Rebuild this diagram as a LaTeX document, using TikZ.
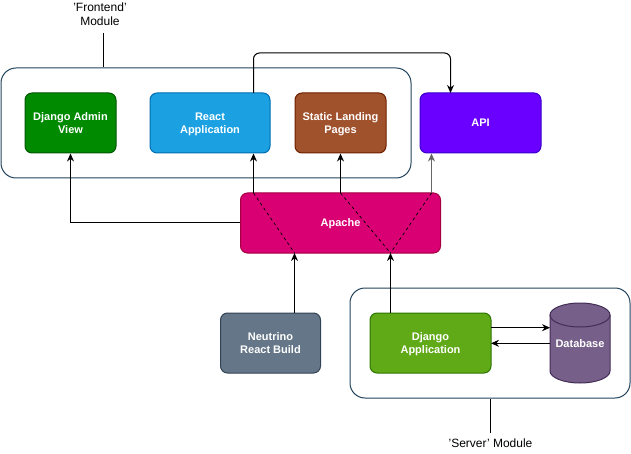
\documentclass[tikz,border=0pt]{standalone}
\usepackage{fontspec}
\setmainfont{Liberation Sans}
\usetikzlibrary{arrows.meta}
\definecolor{adminF}{HTML}{008A00}\definecolor{adminD}{HTML}{005700}
\definecolor{reactF}{HTML}{1BA1E2}\definecolor{reactD}{HTML}{006EAF}
\definecolor{staticF}{HTML}{A0522D}\definecolor{staticD}{HTML}{6D1F00}
\definecolor{apiF}{HTML}{6A00FF}\definecolor{apiD}{HTML}{3700CC}
\definecolor{apacheF}{HTML}{D80073}\definecolor{apacheD}{HTML}{A50040}
\definecolor{neuF}{HTML}{647687}\definecolor{neuD}{HTML}{314354}
\definecolor{djF}{HTML}{60A917}\definecolor{djD}{HTML}{2D7600}
\definecolor{dbF}{HTML}{76608A}\definecolor{dbD}{HTML}{432D57}
\definecolor{contD}{HTML}{23445D}
\begin{document}
\begin{tikzpicture}[x=1pt,y=-1pt,line width=1pt,
  box/.style={draw, rounded corners=7pt, text=white, inner sep=0pt, align=center,
    text depth=-3.5pt, font=\bfseries\fontsize{11}{13.3}\selectfont},
  cont/.style={draw=contD, fill=white, rounded corners=15pt, line width=1pt},
  lbl/.style={font=\fontsize{12}{14}\selectfont, align=center, inner sep=0pt},
  arr/.style={-{Stealth[length=8pt,width=7pt]}, line width=1pt},
  dsh/.style={dashed, dash pattern=on 3pt off 3pt, line width=0.7pt}]
\useasboundingbox (0,0) rectangle (631,454);
\fill[white] (0,0) rectangle (631,454);
% containers
\node[cont, minimum width=410pt, minimum height=110pt, inner sep=0pt] (front) at (206,123) {};
\node[cont, minimum width=280pt, minimum height=110pt, inner sep=0pt] (server) at (490,343) {};
% boxes
\node[box, fill=adminF, draw=adminD, minimum width=91pt, minimum height=60pt] (admin) at (70.5,123) {Django Admin\\View};
\node[box, fill=reactF, draw=reactD, minimum width=120pt, minimum height=60pt] (react) at (210,123) {React\\Application};
\node[box, fill=staticF, draw=staticD, minimum width=91pt, minimum height=60pt] (static) at (340.5,123) {Static Landing\\Pages};
\node[box, fill=apiF, draw=apiD, minimum width=121pt, minimum height=60pt] (api) at (480.5,123) {API};
\node[box, fill=apacheF, draw=apacheD, minimum width=200pt, minimum height=60pt] (apache) at (340.5,223) {Apache};
\node[box, fill=neuF, draw=neuD, minimum width=100pt, minimum height=60pt] (neu) at (270.5,343) {Neutrino\\React Build};
\node[box, fill=djF, draw=djD, minimum width=121pt, minimum height=60pt] (django) at (430.5,343) {Django\\Application};
% database cylinder
\fill[dbF] (550,315) -- (550,371) arc[start angle=180, end angle=0, x radius=30, y radius=12] -- (610,315) arc[start angle=0, end angle=-180, x radius=30, y radius=12] -- cycle;
\draw[dbD] (550,315) -- (550,371) arc[start angle=180, end angle=0, x radius=30, y radius=12] -- (610,315);
\draw[dbD] (580,315) ellipse[x radius=30, y radius=12];
\node[minimum width=60pt, minimum height=80pt, inner sep=0pt] (db) at (580,343) {};
\node[text=white, font=\bfseries\fontsize{11}{13.3}\selectfont, inner sep=0pt] (dbl) at (580,344) {Database};
% labels
\node[lbl] (flbl) at (100,14) {'Frontend'\\Module};
\node[lbl] (slbl) at (490.5,443) {'Server' Module};
\coordinate (ft) at (103,33);
\draw (ft) -- (ft |- front.north);
\coordinate (sb) at (490.5,433);
\draw (sb) -- (sb |- server.south);
% dashed lines in apache
\coordinate (a1) at (253.5,193); \coordinate (a2) at (340.5,193); \coordinate (a3) at (431.5,193);
\coordinate (b1) at (294.5,253); \coordinate (b2) at (390.5,253);
\draw[dsh] (a1) -- (b1);
\draw[dsh] (a2) -- (b2);
\draw[dsh] (a3) -- (b2);
% arrows
\draw[arr] (apache.west) -- (70.5,223) -- (admin.south);
\draw[arr] (a1) -- (a1 |- react.south);
\draw[arr] (a2) -- (a2 |- static.south);
\draw[arr, draw=black!60] (a3) -- (a3 |- api.south);
\coordinate (rt) at (253.5,93);
\coordinate (at) at (450.5,93);
\draw[arr, rounded corners=6pt] (rt) -- (253.5,53) -- (450.5,53) -- (at);
\draw[arr] (neu.north -| b1) -- (b1);
\draw[arr] (django.north -| b2) -- (b2);
\draw[arr] (491,327.7) -- (550,327.7);
\draw[arr] (550,343.3) -- (491,343.3);
\end{tikzpicture}
\end{document}
